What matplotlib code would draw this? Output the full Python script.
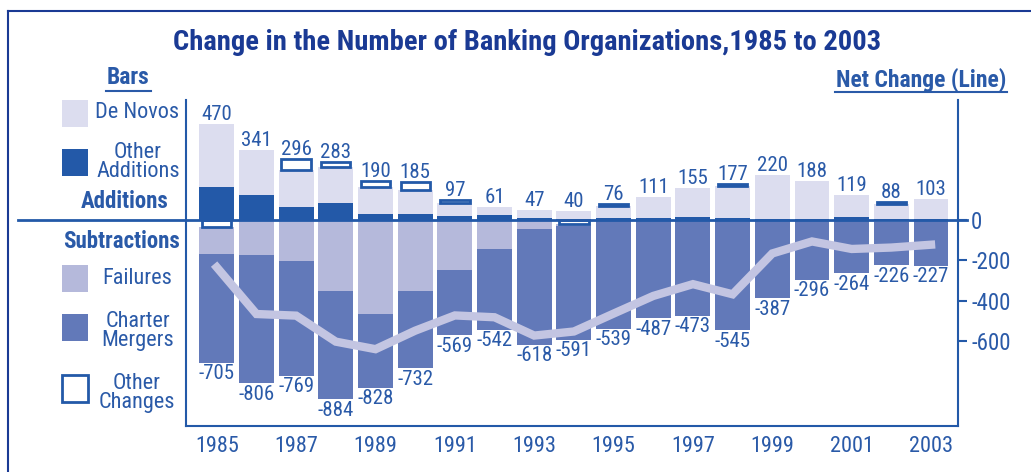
import numpy as np
import matplotlib.pyplot as plt
from matplotlib import font_manager as fm
from matplotlib.patches import Rectangle
from matplotlib.lines import Line2D

# pick a narrow face if one is installed
installed = {f.name for f in fm.fontManager.ttflist}
narrow = [n for n in ['Roboto Condensed', 'Liberation Sans Narrow'] if n in installed]
plt.rcParams['font.family'] = narrow + ['DejaVu Sans']
plt.rcParams['font.stretch'] = 'condensed'

# data (number of banking organizations)
years = list(range(1985, 2004))
de_novos = [311, 222, 184, 176, 137, 120, 62, 39, 39, 36, 59, 103, 143, 160, 217, 186, 109, 72, 100]
other_additions = [159, 119, 62, 81, 25, 26, 18, 22, 8, 4, 5, 8, 12, 5, 3, 2, 10, 4, 3]
other_changes = [-35, 0, 50, 26, 28, 39, 17, 0, 0, -22, 12, 0, 0, 12, 0, 0, 0, 12, 0]
failures = [135, 175, 205, 350, 465, 350, 246, 143, 45, 8, 6, 5, 2, 3, 7, 7, 4, 11, 2]
charter_mergers = [535, 631, 564, 534, 363, 382, 323, 399, 573, 561, 533, 482, 471, 542, 380, 289, 260, 215, 225]

tick_years = [1985, 1987, 1989, 1991, 1993, 1995, 1997, 1999, 2001, 2003]
net_ticks = [0, -200, -400, -600]

# colours
DARK = '#2359a8'
LIGHT = '#dcddef'
FAIL = '#b5b9db'
MERGE = '#6279b9'
NETLINE = '#c3c5e2'
TEXT = '#2a5aa8'
TITLE = '#1a3a94'

W, H = 1031, 472
fig = plt.figure(figsize=(W / 100, H / 100), dpi=100)


def fx(px):
    return px / W


def fy(py):
    return 1 - py / H


ax = fig.add_axes([fx(186), fy(426), fx(958) - fx(186), fy(100) - fy(426)])

x = np.array(years)
dn = np.array(de_novos)
oa = np.array(other_additions)
oc = np.array(other_changes)
fa = np.array(failures)
cm = np.array(charter_mergers)
oc_pos = np.clip(oc, 0, None)
oc_neg = np.clip(-oc, 0, None)

width = 0.88
# additions
ax.bar(x, oa, width, color=DARK, zorder=2)
ax.bar(x, dn, width, bottom=oa, color=LIGHT, zorder=2)
m = oc_pos > 0
ax.bar(x[m], oc_pos[m], width * 0.84, bottom=(oa + dn)[m], facecolor='white',
       edgecolor=DARK, linewidth=2, zorder=3)
# subtractions
ax.bar(x, -fa, width, bottom=-oc_neg, color=FAIL, zorder=2)
ax.bar(x, -cm, width, bottom=-oc_neg - fa, color=MERGE, zorder=2)
m = oc_neg > 0
ax.bar(x[m], -oc_neg[m], width * 0.84, facecolor='white',
       edgecolor=DARK, linewidth=2, zorder=3)

pos_total = oa + dn + oc_pos
neg_total = fa + cm + oc_neg
net = pos_total - neg_total
ax.plot(x, net, color=NETLINE, lw=6, zorder=4, solid_joinstyle='miter')

for xi, p, n in zip(x, pos_total, neg_total):
    ax.annotate(f'{p}', (xi, p), xytext=(0, 0), textcoords='offset points',
                ha='center', va='bottom', fontsize=15, color=TEXT)
    ax.annotate(f'-{n}', (xi, -n), xytext=(0, -1), textcoords='offset points',
                ha='center', va='top', fontsize=15, color=TEXT)

# zero line running into the legend area
ax.plot([-0.2176, 1.0117], [0, 0], transform=ax.get_yaxis_transform(),
        color=DARK, lw=2, clip_on=False, zorder=5)

ax.set_xlim(1984.224, 2003.68)
ax.set_ylim(-1016, 588)
ax.set_xticks(tick_years)
ax.set_xticklabels([str(t) for t in tick_years])
ax.tick_params(axis='x', length=0, pad=7, labelsize=16, labelcolor=TEXT)
ax.yaxis.tick_right()
ax.set_yticks(net_ticks)
ax.set_yticklabels([str(t) for t in net_ticks])
ax.tick_params(axis='y', direction='out', length=6.5, width=1.5, color=DARK,
               pad=3, labelsize=16.5, labelcolor=TEXT)
for s in ['left', 'right', 'bottom']:
    ax.spines[s].set_color(DARK)
    ax.spines[s].set_linewidth(1.5)
ax.spines['top'].set_visible(False)

# title and headers
fig.text(fx(527), fy(42), 'Change in the Number of Banking Organizations,1985 to 2003',
         ha='center', va='center', fontsize=20.5, fontweight='bold', color=TITLE)
fig.text(fx(128), fy(78), 'Bars', ha='center', va='center', fontsize=17,
         fontweight='bold', color=TEXT)
fig.add_artist(Line2D([fx(106), fx(151)], [fy(91), fy(91)], color=TEXT, lw=1.5))
fig.text(fx(921), fy(80), 'Net Change (Line)', ha='center', va='center', fontsize=17,
         fontweight='bold', color=TEXT)
fig.add_artist(Line2D([fx(835), fx(1007)], [fy(92), fy(92)], color=TEXT, lw=1.5))

# legend
legend_items = [
    (100, LIGHT, None, 'De Novos', (137, 113)),
    (149, DARK, None, 'Other\nAdditions', (138, 162)),
    (265, FAIL, None, 'Failures', (137, 278)),
    (314, MERGE, None, 'Charter\nMergers', (138, 331)),
    (375, 'white', DARK, 'Other\nChanges', (137, 393)),
]
for top, fc, ec, label, (tx, ty) in legend_items:
    rect = Rectangle((fx(62), fy(top + 27)), fx(88) - fx(62), fy(top) - fy(top + 27),
                     transform=fig.transFigure, facecolor=fc,
                     edgecolor=ec if ec else fc, linewidth=2 if ec else 0)
    fig.add_artist(rect)
    fig.text(fx(tx), fy(ty), label, ha='center', va='center', fontsize=16,
             color=TEXT, linespacing=0.92)
fig.text(fx(125), fy(201), 'Additions', ha='center', va='center', fontsize=16.5,
         fontweight='bold', color=TEXT)
fig.text(fx(122), fy(242), 'Subtractions', ha='center', va='center', fontsize=16.5,
         fontweight='bold', color=TEXT)

# outer frame
fig.add_artist(Line2D([fx(7.5), fx(7.5)], [0, fy(11)], color=TITLE, lw=1.5))
fig.add_artist(Line2D([fx(7.5), 1], [fy(11), fy(11)], color=TITLE, lw=1.5))

fig.savefig('out.png', dpi=100)
